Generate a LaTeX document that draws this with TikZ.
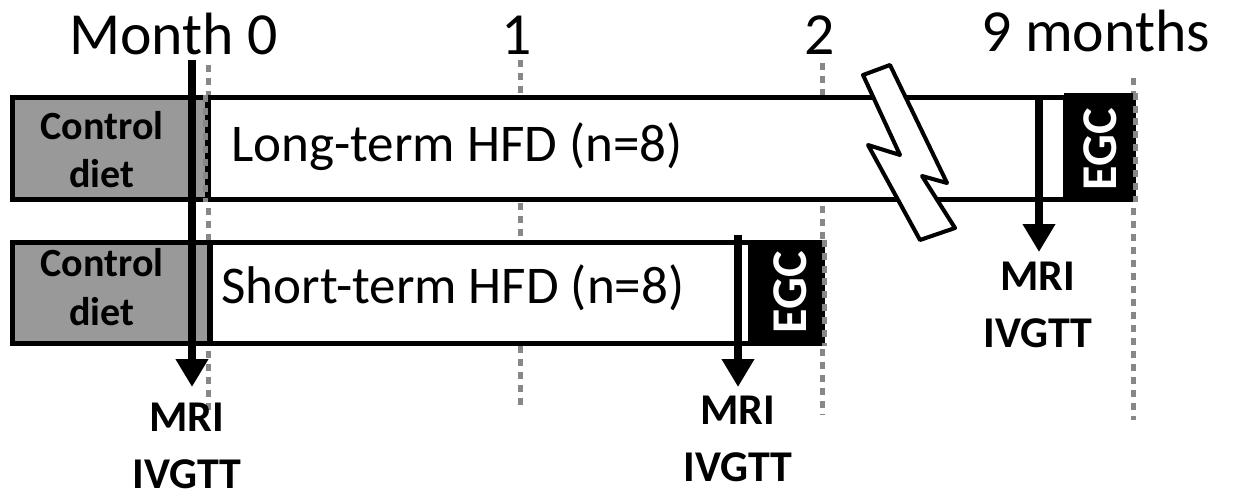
\documentclass[tikz,border=0pt]{standalone}
\usepackage{fontspec}
\setmainfont{Carlito}
\usetikzlibrary{arrows.meta}
\begin{document}
\begin{tikzpicture}[x=0.02cm,y=-0.02cm,
  boxline/.style={draw=black, line width=2.85pt, rectangle, inner sep=0pt, line join=miter},
  ctlbox/.style={boxline, fill=black!40},
  hfdbox/.style={boxline, fill=white},
  egcbox/.style={boxline, fill=black},
  tick/.style={draw=black!47, line width=2.85pt, dash pattern=on 0.14cm off 0.12cm},
  arr/.style={draw=black, line width=4.5pt, -{Triangle[length=0.56cm,width=0.62cm]}},
  bolt/.style={draw=black, fill=white, line width=2.3pt, line join=round},
  bigtxt/.style={inner sep=0pt, font=\fontsize{34}{41}\selectfont},
  hfdtxt/.style={inner sep=0pt, font=\fontsize{30.2}{36}\selectfont},
  ctltxt/.style={inner sep=0pt, align=center, font=\bfseries\fontsize{22.8}{27.8}\selectfont},
  mritxt/.style={inner sep=0pt, align=center, font=\bfseries\fontsize{25}{31.9}\selectfont},
  egctxt/.style={inner sep=0pt, rotate=90, text=white, font=\bfseries\fontsize{28.5}{34}\selectfont}
]
\useasboundingbox (0,0) rectangle (1236,493);

% time labels
\node[bigtxt, anchor=base west] (m0) at (69,55) {Month 0};
\node[bigtxt, anchor=base] (m1) at (517,55) {1};
\node[bigtxt, anchor=base] (m2) at (820,55) {2};
\node[bigtxt, anchor=base west] (m9) at (981,52) {9 months};

% dashed time lines (behind boxes)
\coordinate (t0a) at (208,65);  \coordinate (t0b) at (208,412);
\coordinate (t1a) at (520,60);  \coordinate (t1b) at (520,410);
\coordinate (t2a) at (822,63);  \coordinate (t2b) at (822,414);
\coordinate (t9a) at (1133,78); \coordinate (t9b) at (1133,420);
\draw[tick] (t0a) -- (t0b);
\draw[tick] (t1a) -- (t1b);
\draw[tick] (t2a) -- (t2b);
\draw[tick] (t9a) -- (t9b);

% top row
\node[ctlbox, minimum width=3.92cm, minimum height=2.06cm] (ctl1) at (110,148.5) {};
\node[hfdbox, minimum width=17.16cm, minimum height=2.06cm] (hfd1) at (637,148.5) {};
\node[egcbox, minimum width=1.34cm, minimum height=2.1cm] (egc1) at (1099.5,147.5) {};
\node[ctltxt, anchor=base] (ctl1t) at (102,188) {Control\\diet};
\node[hfdtxt, anchor=base west] (hfd1t) at (231,162) {Long-term HFD (n=8)};
\node[egctxt] (egc1t) at (1100,149) {EGC};

% bottom row
\node[ctlbox, minimum width=3.96cm, minimum height=2.04cm] (ctl2) at (111,293) {};
\node[hfdbox, minimum width=10.82cm, minimum height=2.04cm] (hfd2) at (480.5,293) {};
\node[egcbox, minimum width=1.42cm, minimum height=2.04cm] (egc2) at (786.5,293) {};
\node[ctltxt, anchor=base] (ctl2t) at (102,325) {Control\\diet};
\node[hfdtxt, anchor=base west] (hfd2t) at (221,303) {Short-term HFD (n=8)};
\node[egctxt] (egc2t) at (790,292) {EGC};

% dashed overlays on box edges
\draw[tick] (hfd1.north west) -- (hfd1.south west);
\draw[tick] (egc1.north east) -- (egc1.south east);
\draw[tick] (egc2.north east) -- (egc2.south east);

% break symbol
\draw[bolt] (863,75) -- (890,65) -- (947,183) -- (922,176) -- (955,228) -- (920,240) -- (868,145) -- (900,155) -- cycle;

% measurement labels
\node[mritxt, anchor=base] (mri1) at (187,488) {MRI\\IVGTT};
\node[mritxt, anchor=base] (mri2) at (738,481) {MRI\\IVGTT};
\node[mritxt, anchor=base] (mri3) at (1038,347) {MRI\\IVGTT};

% arrows
\coordinate (a1s) at (192,60);   \coordinate (a1e) at (192,387);
\coordinate (a2s) at (738,235);  \coordinate (a2e) at (738,387);
\coordinate (a3s) at (1039,98);  \coordinate (a3e) at (1039,252);
\draw[arr] (a1s) -- (a1e);
\draw[arr] (a2s) -- (a2e);
\draw[arr] (a3s) -- (a3e);
\end{tikzpicture}
\end{document}
